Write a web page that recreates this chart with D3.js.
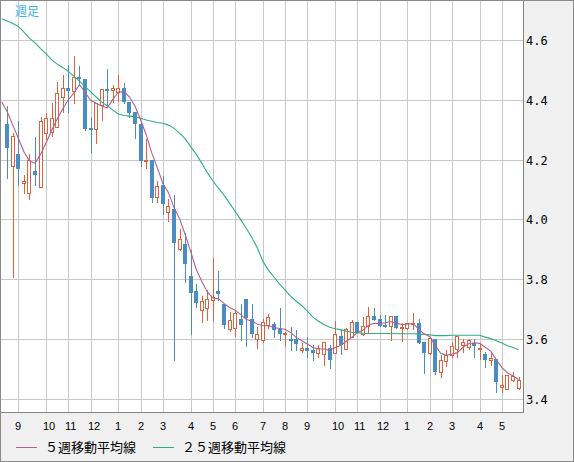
<!DOCTYPE html>
<html>
<head>
<meta charset="utf-8">
<script src="https://cdn.jsdelivr.net/npm/d3@7"></script>
<style>
  html, body { margin: 0; padding: 0; background: #f0f0f0; }
  svg { display: block; }
</style>
</head>
<body>
<div id="chart"></div>
<script>
// weekly candles, index 0 = first visible week
var opens = [
  4.32, 4.18, 4.22, 4.125, 4.09, 4.165, 4.11, 4.29, 4.295, 4.31,
  4.41, 4.44, 4.43, 4.477, 4.47, 4.308, 4.305, 4.384, 4.438, 4.434,
  4.429, 4.44, 4.395, 4.36, 4.32, 4.196, 4.202, 4.075, 4.116, 4.026,
  4.038, 3.903, 3.921, 3.812, 3.762, 3.700, 3.704, 3.732, 3.762, 3.720,
  3.634, 3.640, 3.668, 3.737, 3.668, 3.600, 3.598, 3.648, 3.651, 3.634,
  3.618, 3.603, 3.600, 3.564, 3.570, 3.564, 3.555, 3.550, 3.572, 3.555,
  3.611, 3.568, 3.609, 3.657, 3.620, 3.646, 3.678, 3.667, 3.650, 3.645,
  3.678, 3.640, 3.640, 3.651, 3.656, 3.592, 3.556, 3.603, 3.492, 3.528,
  3.547, 3.567, 3.581, 3.575, 3.587, 3.568, 3.551, 3.533, 3.536, 3.441,
  3.436, 3.464, 3.439
];
var highs = [
  4.38, 4.29, 4.33, 4.15, 4.22, 4.276, 4.345, 4.356, 4.39, 4.46,
  4.485, 4.518, 4.548, 4.514, 4.47, 4.345, 4.392, 4.437, 4.505, 4.451,
  4.485, 4.457, 4.395, 4.36, 4.323, 4.269, 4.202, 4.131, 4.147, 4.069,
  4.082, 3.968, 3.957, 3.899, 3.784, 3.745, 3.765, 3.873, 3.829, 3.720,
  3.692, 3.698, 3.720, 3.737, 3.720, 3.642, 3.668, 3.685, 3.657, 3.707,
  3.625, 3.642, 3.631, 3.587, 3.609, 3.581, 3.581, 3.592, 3.581, 3.662,
  3.631, 3.639, 3.665, 3.657, 3.676, 3.709, 3.704, 3.681, 3.681, 3.680,
  3.680, 3.654, 3.655, 3.690, 3.668, 3.592, 3.605, 3.603, 3.547, 3.564,
  3.592, 3.611, 3.603, 3.603, 3.603, 3.587, 3.559, 3.559, 3.536, 3.481,
  3.481, 3.492, 3.475
];
var lows = [
  4.14, 3.81, 4.12, 4.09, 4.07, 4.116, 4.11, 4.27, 4.28, 4.31,
  4.36, 4.36, 4.39, 4.45, 4.30, 4.228, 4.258, 4.334, 4.378, 4.395,
  4.399, 4.39, 4.345, 4.275, 4.18, 4.174, 4.06, 4.059, 4.02, 3.998,
  3.533, 3.901, 3.793, 3.619, 3.708, 3.657, 3.665, 3.665, 3.732, 3.639,
  3.628, 3.611, 3.598, 3.578, 3.609, 3.573, 3.592, 3.638, 3.609, 3.598,
  3.579, 3.564, 3.564, 3.559, 3.542, 3.531, 3.542, 3.514, 3.506, 3.555,
  3.551, 3.568, 3.609, 3.622, 3.614, 3.625, 3.665, 3.646, 3.641, 3.598,
  3.639, 3.595, 3.634, 3.634, 3.589, 3.488, 3.553, 3.483, 3.475, 3.511,
  3.542, 3.542, 3.559, 3.567, 3.542, 3.536, 3.508, 3.514, 3.425, 3.425,
  3.436, 3.461, 3.434
];
var closes = [
  4.24, 4.28, 4.17, 4.13, 4.20, 4.15, 4.33, 4.34, 4.34, 4.425,
  4.44, 4.432, 4.477, 4.47, 4.305, 4.305, 4.39, 4.437, 4.434, 4.44,
  4.44, 4.393, 4.356, 4.32, 4.197, 4.202, 4.074, 4.115, 4.052, 4.046,
  3.923, 3.935, 3.851, 3.757, 3.722, 3.728, 3.735, 3.742, 3.753, 3.650,
  3.665, 3.690, 3.650, 3.672, 3.620, 3.620, 3.657, 3.674, 3.633, 3.620,
  3.623, 3.600, 3.584, 3.572, 3.561, 3.556, 3.570, 3.592, 3.533, 3.620,
  3.583, 3.634, 3.657, 3.625, 3.646, 3.678, 3.665, 3.646, 3.645, 3.678,
  3.639, 3.642, 3.654, 3.656, 3.589, 3.555, 3.605, 3.492, 3.531, 3.547,
  3.578, 3.611, 3.592, 3.598, 3.578, 3.572, 3.533, 3.538, 3.458, 3.449,
  3.481, 3.477, 3.466
];

// moving averages, first value belongs to the week before index 0
var ma5 = [
  4.395,
  4.362, 4.317, 4.273, 4.228, 4.198, 4.189, 4.220, 4.258, 4.300, 4.338,
  4.372, 4.402, 4.425, 4.452, 4.427, 4.400, 4.390, 4.381, 4.375, 4.403,
  4.428, 4.429, 4.411, 4.380, 4.335, 4.285, 4.224, 4.175, 4.122, 4.092,
  4.041, 4.005, 3.952, 3.895, 3.835, 3.795, 3.759, 3.739, 3.736, 3.721,
  3.707, 3.698, 3.683, 3.668, 3.661, 3.652, 3.646, 3.646, 3.640, 3.637,
  3.634, 3.623, 3.607, 3.596, 3.585, 3.573, 3.568, 3.568, 3.563, 3.573,
  3.580, 3.594, 3.607, 3.624, 3.631, 3.648, 3.654, 3.654, 3.656, 3.660,
  3.654, 3.650, 3.651, 3.654, 3.635, 3.619, 3.610, 3.580, 3.554, 3.547,
  3.551, 3.556, 3.574, 3.586, 3.589, 3.587, 3.574, 3.561, 3.532, 3.506,
  3.489, 3.478, 3.466
];
var ma25 = [
  4.673,
  4.665, 4.657, 4.647, 4.628, 4.608, 4.592, 4.573, 4.555, 4.535, 4.521,
  4.510, 4.496, 4.481, 4.464, 4.446, 4.429, 4.411, 4.394, 4.382, 4.367,
  4.354, 4.349, 4.347, 4.344, 4.340, 4.334, 4.330, 4.326, 4.323, 4.317,
  4.307, 4.290, 4.272, 4.245, 4.220, 4.190, 4.158, 4.130, 4.106, 4.083,
  4.056, 4.029, 4.001, 3.972, 3.942, 3.906, 3.862, 3.832, 3.809, 3.785,
  3.765, 3.745, 3.728, 3.713, 3.695, 3.675, 3.661, 3.650, 3.641, 3.636,
  3.633, 3.628, 3.624, 3.623, 3.621, 3.620, 3.620, 3.620, 3.620, 3.620,
  3.619, 3.619, 3.619, 3.619, 3.618, 3.617, 3.616, 3.613, 3.613, 3.613,
  3.614, 3.614, 3.614, 3.614, 3.614, 3.614, 3.608, 3.603, 3.596, 3.588,
  3.579, 3.573, 3.566
];

// first week of each month
var monthWeeks  = [2, 7, 11, 15, 20, 24, 28, 33, 37, 41, 46, 50, 54, 59, 63, 67, 72, 76, 80, 85, 89];
var monthLabels = ["9","10","11","12","1","2","3","4","5","6","7","8","9","10","11","12","1","2","3","4","5"];
var priceTicks  = [3.4, 3.6, 3.8, 4.0, 4.2, 4.4, 4.6];

var legendLabels = ["５週移動平均線", "２５週移動平均線"];
var legendColors = ["#b0628e", "#2eaf7c"];

var svgWidth = 574;
var svgHeight = 462;
var plotW = 523;
var plotH = 412;

var upColor = "#e0623c";
var downColor = "#4a8cc4";
var gridColor = "#c8c8c8";

var svg = d3.select("#chart")
  .append("svg")
  .attr("width", svgWidth)
  .attr("height", svgHeight);

svg.append("rect")
  .attr("width", svgWidth)
  .attr("height", svgHeight)
  .attr("fill", "#f0f0f0");

svg.append("rect")
  .attr("width", plotW)
  .attr("height", plotH)
  .attr("fill", "#ffffff");

svg.append("clipPath").attr("id", "plotclip")
  .append("rect")
  .attr("x", 1).attr("y", 1)
  .attr("width", plotW - 1).attr("height", plotH - 1);

// scales
var xScale = d3.scaleLinear().domain([-1.3, 92.8]).range([0, plotW]);
var yScale = d3.scaleLinear().domain([3.3575, 4.7355]).range([plotH, 0]);

var px = function(i) { return Math.round(xScale(i)); };
var py = function(v) { return Math.floor(yScale(v)) + 0.5; };

// grid
var grid = svg.append("g");
grid.selectAll(".hgrid")
  .data(priceTicks)
  .enter()
  .append("line")
  .attr("x1", 0).attr("x2", plotW)
  .attr("y1", d => py(d)).attr("y2", d => py(d))
  .attr("stroke", gridColor);

grid.selectAll(".vgrid")
  .data(monthWeeks)
  .enter()
  .append("line")
  .attr("x1", d => px(d) + 0.5).attr("x2", d => px(d) + 0.5)
  .attr("y1", 0).attr("y2", plotH)
  .attr("stroke", gridColor);

// candles
var candleData = closes.map(function(c, i) {
  return { i: i, o: opens[i], h: highs[i], l: lows[i], c: c, up: c >= opens[i] };
});

var candles = svg.append("g").attr("clip-path", "url(#plotclip)");

candles.selectAll(".wick")
  .data(candleData)
  .enter()
  .append("line")
  .attr("x1", d => px(d.i) + 0.5).attr("x2", d => px(d.i) + 0.5)
  .attr("y1", d => Math.round(yScale(d.h)))
  .attr("y2", d => Math.round(yScale(d.l)) + 1)
  .attr("stroke", d => d.up ? upColor : downColor)
  .attr("stroke-width", 1);

candles.selectAll(".downbody")
  .data(candleData.filter(d => !d.up))
  .enter()
  .append("rect")
  .attr("x", d => px(d.i) - 2)
  .attr("y", d => Math.round(yScale(d.o)))
  .attr("width", 4)
  .attr("height", d => Math.max(2, Math.round(yScale(d.c)) - Math.round(yScale(d.o))))
  .attr("fill", downColor);

candles.selectAll(".upbody")
  .data(candleData.filter(d => d.up))
  .enter()
  .append("rect")
  .attr("x", d => px(d.i) - 1.5)
  .attr("y", d => Math.round(yScale(d.c)) + 0.5)
  .attr("width", 3)
  .attr("height", d => Math.max(1, Math.round(yScale(d.o)) - Math.round(yScale(d.c))))
  .attr("fill", "#ffffff")
  .attr("stroke", upColor)
  .attr("stroke-width", 1);

// moving averages
var maLine = d3.line()
  .x((d, k) => xScale(k - 1))
  .y(d => yScale(d));

candles.append("path")
  .datum(ma25)
  .attr("d", maLine)
  .attr("fill", "none")
  .attr("stroke", legendColors[1])
  .attr("stroke-width", 1.1);

candles.append("path")
  .datum(ma5)
  .attr("d", maLine)
  .attr("fill", "none")
  .attr("stroke", legendColors[0])
  .attr("stroke-width", 1.1);

// plot frame
svg.append("rect")
  .attr("x", 0.5).attr("y", 0.5)
  .attr("width", plotW).attr("height", plotH)
  .attr("fill", "none")
  .attr("stroke", "#858585");

// price labels on the right
svg.selectAll(".ylab")
  .data(priceTicks)
  .enter()
  .append("text")
  .attr("x", plotW + 3)
  .attr("y", d => py(d) + 4.5)
  .text(d => d3.format(".1f")(d))
  .style("font-family", "'DejaVu Sans Mono', 'Liberation Mono', monospace")
  .style("font-size", "12px")
  .style("fill", "#000");

// month labels
svg.selectAll(".xlab")
  .data(monthWeeks)
  .enter()
  .append("text")
  .attr("x", d => px(d) - 3)
  .attr("y", 429.5)
  .text((d, k) => monthLabels[k])
  .style("font-family", "'Liberation Sans', Arial, sans-serif")
  .style("font-size", "11px")
  .style("fill", "#000");

// title
svg.append("text")
  .attr("x", 15)
  .attr("y", 15.5)
  .text("週足")
  .style("font-family", "'Noto Sans CJK JP', sans-serif")
  .style("font-size", "12px")
  .style("fill", "#3cb2ee");

// legend
var legendX = [16, 153];
var legend = svg.selectAll(".legend")
  .data(legendLabels)
  .enter()
  .append("g")
  .attr("transform", (d, k) => `translate(${legendX[k]}, 447.5)`);

legend.append("line")
  .attr("x1", 0).attr("x2", 21)
  .attr("y1", 0).attr("y2", 0)
  .attr("stroke", (d, k) => legendColors[k]);

legend.append("text")
  .attr("x", 29)
  .attr("y", 4.8)
  .text(d => d)
  .style("font-family", "'Noto Sans CJK JP', sans-serif")
  .style("font-size", "13px")
  .style("fill", "#000");

// outer frame
svg.append("rect")
  .attr("x", 0.5).attr("y", 0.5)
  .attr("width", svgWidth - 1).attr("height", svgHeight - 1)
  .attr("fill", "none")
  .attr("stroke", "#8a8a8a");
</script>
</body>
</html>
